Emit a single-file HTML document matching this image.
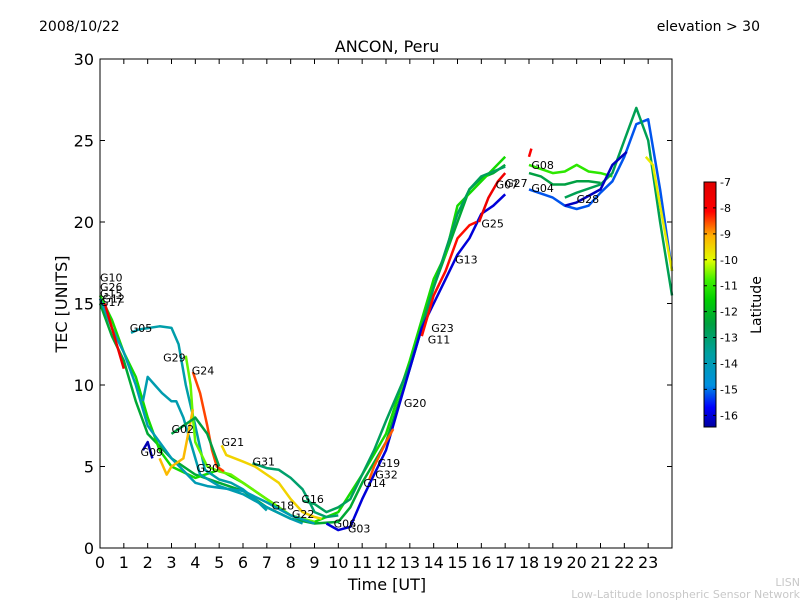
<!DOCTYPE html>
<html><head><meta charset="utf-8"><style>
body{margin:0;background:#fff;}
svg{display:block;font-family:"DejaVu Sans","Liberation Sans",sans-serif;}
</style></head><body>
<svg id="chart" width="800" height="600" viewBox="0 0 800 600">
<defs>
<linearGradient id="jet" x1="0" y1="1" x2="0" y2="0">
<stop offset="0" stop-color="#0000a0"/><stop offset="0.08" stop-color="#0000ff"/><stop offset="0.17" stop-color="#0090e0"/><stop offset="0.3" stop-color="#00a0a0"/><stop offset="0.42" stop-color="#00a040"/><stop offset="0.52" stop-color="#00d000"/><stop offset="0.6" stop-color="#40f000"/><stop offset="0.68" stop-color="#e0ff00"/><stop offset="0.78" stop-color="#ffb000"/><stop offset="0.88" stop-color="#ff0000"/><stop offset="1" stop-color="#e00000"/>
</linearGradient>
</defs>
<text x="39" y="31" font-size="14">2008/10/22</text>
<text x="760" y="31" font-size="14" text-anchor="end">elevation &gt; 30</text>
<text x="387" y="52" font-size="16" text-anchor="middle">ANCON, Peru</text>
<text x="387" y="590" font-size="16" text-anchor="middle">Time [UT]</text>
<text transform="translate(67,304) rotate(-90)" font-size="16" text-anchor="middle">TEC [UNITS]</text>
<text x="800" y="586" font-size="11" fill="#c8c8c8" text-anchor="end">LISN</text>
<text x="800" y="598" font-size="11" fill="#c8c8c8" text-anchor="end">Low-Latitude Ionospheric Sensor Network</text>
<g id="plot"></g>
<rect x="100" y="59" width="572" height="489" fill="none" stroke="#000" stroke-width="1"/>
<g id="axes"></g>
<rect x="704" y="182" width="12" height="245" fill="url(#jet)" stroke="#000" stroke-width="1"/>
<g id="cbticks"></g>
<text transform="translate(761,305) rotate(-90)" font-size="14" text-anchor="middle">Latitude</text>
</svg>
<script>
const xTicks=[0,1,2,3,4,5,6,7,8,9,10,11,12,13,14,15,16,17,18,19,20,21,22,23];
const yTicks=[0,5,10,15,20,25,30];
const cbTicks=[-7,-8,-9,-10,-11,-12,-13,-14,-15,-16];
const seriesLat=[-12.3,-11.3,-13.8,-10.6,-8.5,-13.9,-9.5,-13,-12.8,-16,-8.6,-8.2,-7.6,-11,-12.5,-15.2,-12.7,-14,-16.2,-9.8,-7.5,-16.3,-9.2,-12.5,-8];
const seriesTime=[
[0,0.5,1,1.5,2,3,4,5,6,7,8,9,10,10.5,11,12,13,14,15,15.5,16,16.5,17],
[0,0.5,1,1.5,2,2.5,3,4,5,6,7,8,9,10,11,12,13,14,14.5,15,16,17],
[1.3,1.6,2.5,3,3.3,3.6,4,4.4,5,5.5,6,6.5,7],
[3.6,3.8,3.9,4,4.5,5,5.5,6,7,8,9],
[3.9,4.2,4.5,4.7,4.9,5.2],
[1.8,2,2.3,2.6,3,3.2,3.5,3.8,4.2,5,6,7,8,8.5],
[5.1,5.3,6,6.5,7,7.5,8,8.5,9,9.3],
[6.4,7,7.5,8,8.5,8.8,9,9.5,10],
[8.5,9,9.5,10,10.5,11,11.5,12,13,14,15,15.5,16,16.5,17],
[9.5,10,10.5,11,11.5,12,12.5,13,13.5,14,14.5,15,15.5,16,16.5,17],
[11.3,11.5,12,12.3],
[13.5,14,14.5,15,15.5,15.8],
[15.9,16.3,16.7,17],
[18,19,19.5,20,20.5,21,21.5],
[18,18.5,19,19.5,20,20.5,21],
[18,19,19.5,20,20.5,21,21.5,22,22.5,23,23.5,24],
[19.5,20,21,21.5,22,22.5,23,23.5,24],
[0,0.5,1,1.5,2,3,4,4.5,5,6,7,8,9],
[19.5,20,21,21.5,22.1],
[22.9,23.2,23.5,24],
[0.2,0.5,1],
[1.8,2,2.2],
[2.5,2.8,3,3.5,3.7,3.9],
[3,3.5,4,4.5,5],
[18,18.1]
];
const seriesTec=[
[15,13,11.5,9,7,5.5,4.5,4,3.5,2.5,1.8,1.5,1.6,2.5,4,6.5,11,16,20,22,22.7,23,23.5],
[15.5,14,12,10.5,8,6,5,4.3,4.8,4,3,2,1.6,2.2,4.5,7,11.5,16.5,18,21,22.5,24],
[13.2,13.4,13.6,13.5,12.5,10,7.5,4.8,4.2,4,3.6,3,2.3],
[11.8,10,8,6.5,5,4.7,4.5,4,3,2,1.6],
[10.8,9.5,7.5,6,5,4.7],
[9,10.5,10,9.5,9,9,8,6.5,4.5,3.8,3.3,2.5,1.8,1.5],
[6.3,5.7,5.3,5,4.5,4,3,2.2,1.9,1.8],
[5.2,4.9,4.8,4.3,3.6,2.8,2.2,1.9,2],
[2.9,2.7,2.2,2.5,3,4.5,6,7.8,11.2,16,20.5,22,22.8,23.1,23.4],
[1.5,1.1,1.3,3,4.5,6,8.5,11,13.5,15,16.5,18,19,20.5,21,21.7],
[4.2,5,6.5,7.3],
[13,15.5,17,19,19.8,20],
[20,21.5,22.5,23],
[23.5,23,23.1,23.5,23.1,23,22.8],
[23,22.8,22.3,22.3,22.5,22.5,22.4],
[22,21.5,21,20.8,21,21.8,22.5,24,26,26.3,22,17],
[21.5,21.8,22.3,23,25,27,25,20,15.5],
[15.3,13.5,12,10,7.5,5.5,4,3.8,3.7,3.5,2.8,2,1.5],
[21,21.2,22,23.5,24.3],
[24,23.5,21,17],
[15,13.5,11],
[6,6.5,5.5],
[5.5,4.5,5,5.5,7,8.5],
[7,7.5,8,7,5],
[24,24.5]
];
const labelNames=["G10","G26","G15","G12","G17","G05","G29","G24","G02","G09","G30","G21","G31","G18","G16","G22","G06","G03","G14","G32","G19","G20","G11","G23","G13","G25","G07","G27","G08","G04","G28"];
const labelTime=[0,0,0,0.1,0,1.25,2.65,3.85,3,1.7,4.05,5.1,6.4,7.2,8.45,8.05,9.8,10.4,11.05,11.55,11.65,12.75,13.75,13.9,14.9,16,16.6,17,18.1,18.1,20];
const labelTec=[16.6,16,15.6,15.3,15.1,13.5,11.7,10.9,7.3,5.9,4.9,6.5,5.3,2.6,3,2.1,1.5,1.2,4,4.5,5.2,8.9,12.8,13.5,17.7,19.9,22.3,22.4,23.5,22.1,21.4];

const NS="http://www.w3.org/2000/svg";
const X=h=>100+h*572/24, Y=v=>548-v*489/30;
const CB=l=>427-(l+16.45)*(245/9.45);
const stops=[[0,[0,0,160]],[0.08,[0,0,255]],[0.17,[0,144,224]],[0.3,[0,160,160]],[0.42,[0,160,64]],[0.52,[0,208,0]],[0.6,[64,240,0]],[0.68,[224,255,0]],[0.78,[255,176,0]],[0.88,[255,0,0]],[1,[224,0,0]]];
function col(l){let t=Math.max(0,Math.min(1,(l+16.45)/9.45));
 for(let i=1;i<stops.length;i++){if(t<=stops[i][0]){const a=stops[i-1],b=stops[i],f=(t-a[0])/(b[0]-a[0]);
  const c=a[1].map((v,k)=>Math.round(v+(b[1][k]-v)*f));return `rgb(${c[0]},${c[1]},${c[2]})`;}}
 return 'rgb(224,0,0)';}
const plot=document.getElementById('plot'),axes=document.getElementById('axes'),cbt=document.getElementById('cbticks');
seriesTime.forEach((ts,i)=>{
 const p=document.createElementNS(NS,'polyline');
 p.setAttribute('points',ts.map((t,j)=>X(t).toFixed(1)+','+Y(seriesTec[i][j]).toFixed(1)).join(' '));
 p.setAttribute('fill','none');p.setAttribute('stroke',col(seriesLat[i]));p.setAttribute('stroke-width','2.5');p.setAttribute('stroke-linejoin','round');
 
 
 plot.appendChild(p);});
labelNames.forEach((n,i)=>{
 const t=document.createElementNS(NS,'text');
 t.setAttribute('x',X(labelTime[i]));t.setAttribute('y',Y(labelTec[i])+4);t.setAttribute('font-size','11');t.textContent=n;
 
 
 plot.appendChild(t);});
xTicks.forEach(h=>{
 const l=document.createElementNS(NS,'path');const x=X(h);
 l.setAttribute('d',`M${x},548v-5M${x},59v5`);l.setAttribute('stroke','#000');
 
 
 axes.appendChild(l);
 const t=document.createElementNS(NS,'text');t.setAttribute('x',x);t.setAttribute('y',568);t.setAttribute('font-size','16');t.setAttribute('text-anchor','middle');t.textContent=h;
 
 
 axes.appendChild(t);});
yTicks.forEach(v=>{
 const l=document.createElementNS(NS,'path');const y=Y(v);
 l.setAttribute('d',`M100,${y}h5M672,${y}h-5`);l.setAttribute('stroke','#000');
 
 
 axes.appendChild(l);
 const t=document.createElementNS(NS,'text');t.setAttribute('x',94);t.setAttribute('y',y+6);t.setAttribute('font-size','16');t.setAttribute('text-anchor','end');t.textContent=v;
 
 
 axes.appendChild(t);});
cbTicks.forEach(v=>{
 const y=CB(v);const l=document.createElementNS(NS,'path');
 l.setAttribute('d',`M704,${y}h3M716,${y}h-3`);l.setAttribute('stroke','#000');
 
 
 cbt.appendChild(l);
 const t=document.createElementNS(NS,'text');t.setAttribute('x',720);t.setAttribute('y',y+4);t.setAttribute('font-size','11');t.textContent=v;
 
 
 cbt.appendChild(t);});
</script>
</body></html>
